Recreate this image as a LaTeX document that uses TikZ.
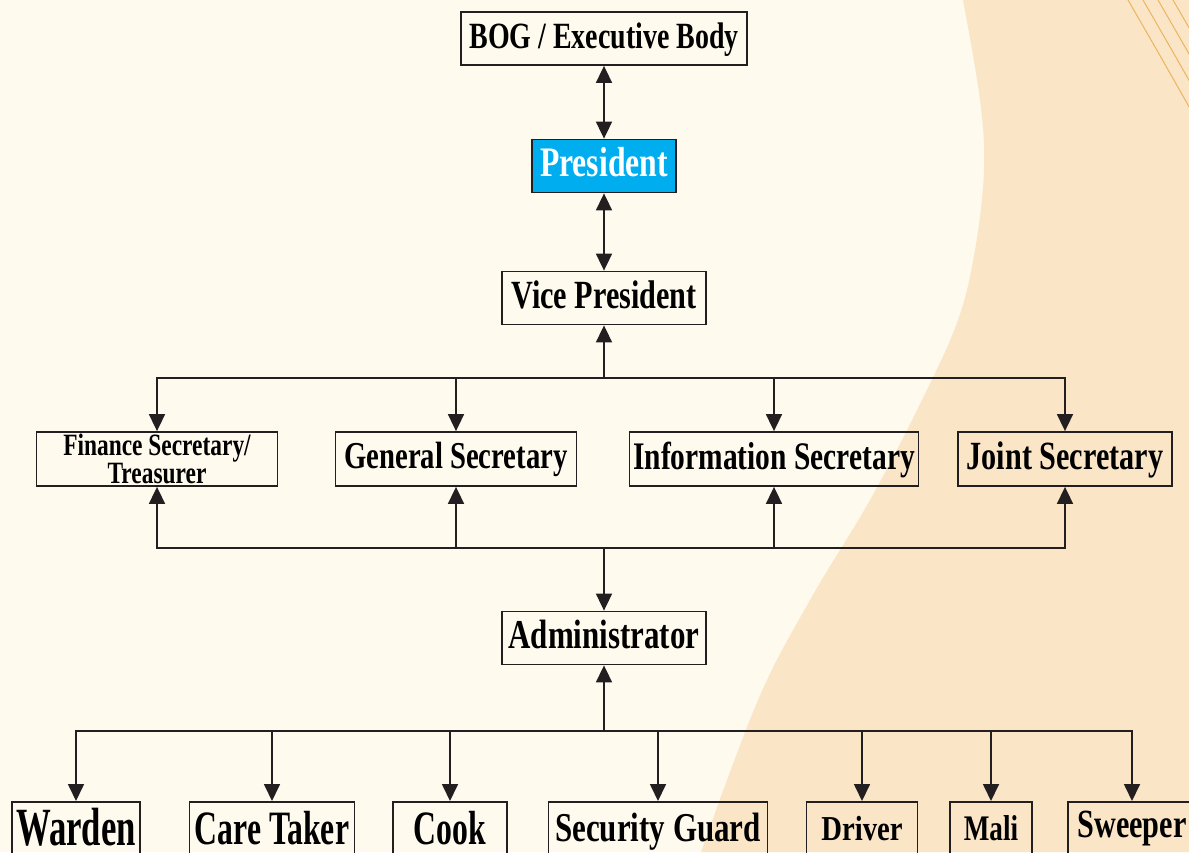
\documentclass[tikz,border=0pt]{standalone}
\usepackage{graphicx}
\usepackage{fontspec}
\newfontfamily\orgfont{Liberation Serif}[FakeStretch=0.755]
\usetikzlibrary{arrows.meta}
\definecolor{cream}{HTML}{FFFAEE}
\definecolor{peach}{HTML}{FAE6C7}
\definecolor{orgblue}{HTML}{00AEEF}
\definecolor{linec}{HTML}{231F20}
\definecolor{stripe}{HTML}{EDB45E}
\tikzset{
  box/.style={draw=linec, line width=1.8pt, inner sep=0pt},
  fs/.style={font=\orgfont\bfseries\fontsize{#1}{#1}\selectfont, text height={0.68*#1pt}, text depth={0.16*#1pt}},
  sfs/.style={font=\orgfont\bfseries\fontsize{#1}{#1}\selectfont, text depth=0pt},
  staff/.style={box, anchor=north, minimum height=54pt},
  arr/.style={line width=1.7pt, draw=linec, -{Triangle[length=17pt,width=16pt]}},
  darr/.style={line width=1.7pt, draw=linec, {Triangle[length=17pt,width=16pt]}-{Triangle[length=17pt,width=16pt]}},
}
\begin{document}
\begin{tikzpicture}[x=1pt,y=-1pt]
\useasboundingbox (0,0) rectangle (1189,852);
\begin{scope}
\clip (0,0) rectangle (1189,852);
\fill[cream] (0,0) rectangle (1189,852);
\fill[peach] (1189,0) -- plot[smooth, tension=0.6] coordinates {(963,0) (980,100) (984,170) (975,250) (958,320) (922,400) (870,500) (810,600) (758,700) (701,852)} -- (1189,852) -- cycle;
\foreach \dx in {0,15,30,45}{
  \draw[stripe, line width=1pt] (1128+\dx,0) .. controls (1158+\dx,52) .. (1192+\dx,112);
}

% nodes
\node[box, fs=37, minimum width=286pt, minimum height=53pt] (bog) at (604,38.5) {BOG / Executive Body};
\node[box, fill=orgblue, text=white, fs=42, minimum width=144pt, minimum height=53pt] (pres) at (604,166) {President};
\node[box, fs=40, minimum width=204pt, minimum height=53pt] (vp) at (604,298) {Vice President};

\node[box, font=\orgfont\bfseries\fontsize{31}{26}\selectfont, align=center, minimum width=241pt, minimum height=54pt] (fin) at (157,459) {Finance Secretary/\\Treasurer};
\node[box, fs=38, minimum width=241pt, minimum height=54pt] (gen) at (456,459) {General Secretary};
\node[box, fs=39, minimum width=289pt, minimum height=54pt] (info) at (774,459) {Information Secretary};
\node[box, fs=40, minimum width=214pt, minimum height=54pt] (joint) at (1065,459) {Joint Secretary};

\node[box, fs=41, minimum width=204pt, minimum height=53pt] (adm) at (604,638) {Administrator};

\node[staff, sfs=46, text height=34pt, minimum width=128pt] (warden) at (76,801) {\scalebox{1}[1.17]{Warden}};
\node[staff, sfs=42, text height=31pt, minimum width=165pt] (care) at (272,801) {\scalebox{1}[1.14]{Care Taker}};
\node[staff, sfs=42, text height=31pt, minimum width=114pt] (cook) at (450,801) {\scalebox{1}[1.14]{Cook}};
\node[staff, sfs=41, text height=26pt, minimum width=219pt] (guard) at (658,801) {Security Guard};
\node[staff, sfs=38, text height=24pt, minimum width=111pt] (driver) at (862,801) {\scalebox{1}[0.92]{Driver}};
\node[staff, sfs=36, text height=24pt, minimum width=82pt] (mali) at (991,801) {Mali};
\node[staff, sfs=40, text height=18pt, minimum width=128pt] (sweeper) at (1132,801) {Sweeper};

% bus points
\coordinate (b1) at (604,378);
\coordinate (b2) at (604,548);
\coordinate (b3) at (604,731);

% connectors
\draw[darr] (bog) -- (pres);
\draw[darr] (pres) -- (vp);
\draw[arr] (b1) -- (vp);
\foreach \n in {fin,gen,info,joint}{
  \draw[arr] (b1) -| (\n);
  \draw[arr] (b2) -| (\n);
}
\draw[arr] (b2) -- (adm);
\draw[arr] (b3) -- (adm);
\foreach \n in {warden,care,cook,guard,driver,mali,sweeper}{
  \draw[arr] (b3) -| (\n);
}
\end{scope}
\end{tikzpicture}
\end{document}
